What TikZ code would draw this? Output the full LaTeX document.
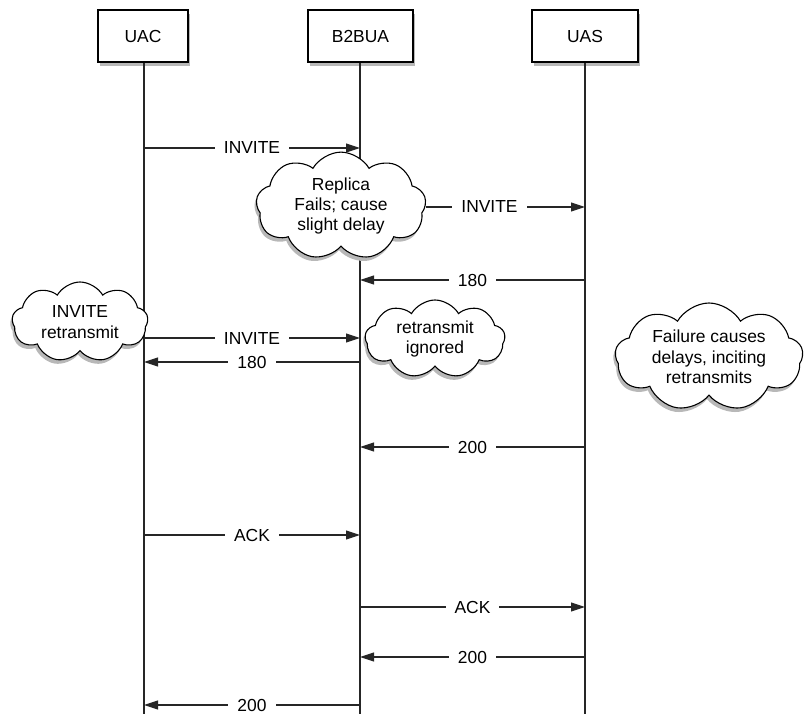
\documentclass[tikz,border=0pt]{standalone}
\usepackage{fontspec}
\setmainfont{Liberation Sans}
\usetikzlibrary{shapes.symbols,shadows,arrows.meta}
\begin{document}
\begin{tikzpicture}[x=1bp,y=-1bp,
  every node/.style={font=\fontsize{17.5}{20}\selectfont},
  actor/.style={draw=black,line width=1.2bp,fill=white,minimum height=52bp,
    drop shadow={fill=black!28,opacity=1,shadow xshift=1.5bp,shadow yshift=-4bp}},
  lifeline/.style={draw=black!85,line width=1.2bp},
  msg/.style={draw=black!85,line width=1.1bp,-{Triangle[length=14bp,width=9bp]}},
  lbl/.style={fill=white,inner xsep=9bp,inner ysep=0bp},
  note/.style={cloud,cloud puffs=9,cloud puff arc=120,aspect=2,draw=black,
    line width=1.1bp,fill=white,align=center,inner sep=0bp,
    font=\fontsize{17.5}{20.5}\selectfont,
    drop shadow={fill=black!28,opacity=1,shadow xshift=-2bp,shadow yshift=-4bp}}]
\useasboundingbox (0,0) rectangle (807,714);
% actors
\node[actor,minimum width=90bp] (uac) at (143,36) {UAC};
\node[actor,minimum width=105bp] (b2b) at (360.5,36) {B2BUA};
\node[actor,minimum width=106bp] (uas) at (585,36) {UAS};
% lifeline ends
\coordinate (uacE) at (144,714);
\coordinate (b2bE) at (360,714);
\coordinate (uasE) at (585,714);
\draw[lifeline] (uac.south -| uacE) -- (uacE);
\draw[lifeline] (b2b.south -| b2bE) -- (b2bE);
\draw[lifeline] (uas.south -| uasE) -- (uasE);
% message coordinates
\foreach \n/\y in {1/148,2/207,3/280,4/338,5/362,6/447,7/535,8/607,9/657,10/705}{
  \coordinate (a\n) at (144,\y);
  \coordinate (b\n) at (360,\y);
  \coordinate (c\n) at (585,\y);
}
% clouds
\node[note,minimum width=170bp,minimum height=86bp] (rep) at (341,206) {Replica\\Fails; cause\\slight delay};
\node[note,minimum width=136bp,minimum height=80bp] (inv) at (80,322) {INVITE\\retransmit};
\node[note,minimum width=140bp,minimum height=78bp] (ign) at (435,339) {retransmit\\ignored};
\node[note,minimum width=188bp,minimum height=108bp] (fail) at (709,357) {Failure causes\\delays, inciting\\retransmits};
% messages
\draw[msg] (a1) -- node[lbl]{INVITE} (b1);
\draw[msg] (rep.east |- c2) -- node[lbl,pos=0.4]{INVITE} (c2);
\draw[msg] (c3) -- node[lbl]{180} (b3);
\draw[msg] (a4) -- node[lbl]{INVITE} (b4);
\draw[msg] (b5) -- node[lbl]{180} (a5);
\draw[msg] (c6) -- node[lbl]{200} (b6);
\draw[msg] (a7) -- node[lbl]{ACK} (b7);
\draw[msg] (b8) -- node[lbl]{ACK} (c8);
\draw[msg] (c9) -- node[lbl]{200} (b9);
\draw[msg] (b10) -- node[lbl]{200} (a10);
\end{tikzpicture}
\end{document}
